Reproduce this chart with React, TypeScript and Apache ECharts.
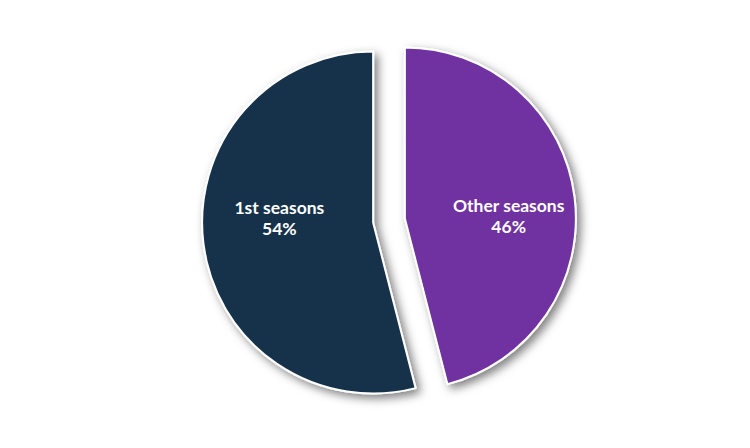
import React, { useEffect, useRef } from "react";
import * as echarts from "echarts";

const categories = ["Other seasons", "1st seasons"];
const values = [46, 54];
const colors = ["#7030A0", "#14334C"];

export default function App() {
  const ref = useRef<HTMLDivElement>(null);
  useEffect(() => {
    document.body.style.margin = "0";
    if (!ref.current) return;
    const chart = echarts.init(ref.current, undefined, { renderer: "svg" });
    chart.setOption({
      animation: false,
      backgroundColor: "#ffffff",
      series: [
        {
          type: "pie",
          center: [389, 220.5],
          radius: [0, 171],
          startAngle: 90,
          clockwise: true,
          selectedMode: "multiple",
          selectedOffset: 16,
          avoidLabelOverlap: false,
          itemStyle: {
            borderColor: "#ffffff",
            borderWidth: 2,
            shadowBlur: 10,
            shadowOffsetX: 4,
            shadowOffsetY: 4,
            shadowColor: "rgba(0,0,0,0.5)",
          },
          label: {
            show: true,
            position: "inside",
            formatter: "{b}\n{d}%",
            color: "#ffffff",
            fontFamily: "Lato",
            fontWeight: "bold",
            fontSize: 17.5,
            lineHeight: 21,
            align: "center",
          },
          labelLine: { show: false },
          labelLayout: (params: any) =>
            params.dataIndex === 0 ? { dx: 16, dy: 9 } : { dx: -6, dy: -16 },
          emphasis: { disabled: true },
          data: categories.map((name, i) => ({
            name,
            value: values[i],
            selected: true,
            itemStyle: { color: colors[i] },
          })),
        },
      ],
    });
    return () => chart.dispose();
  }, []);
  return <div ref={ref} style={{ width: 750, height: 448 }} />;
}
